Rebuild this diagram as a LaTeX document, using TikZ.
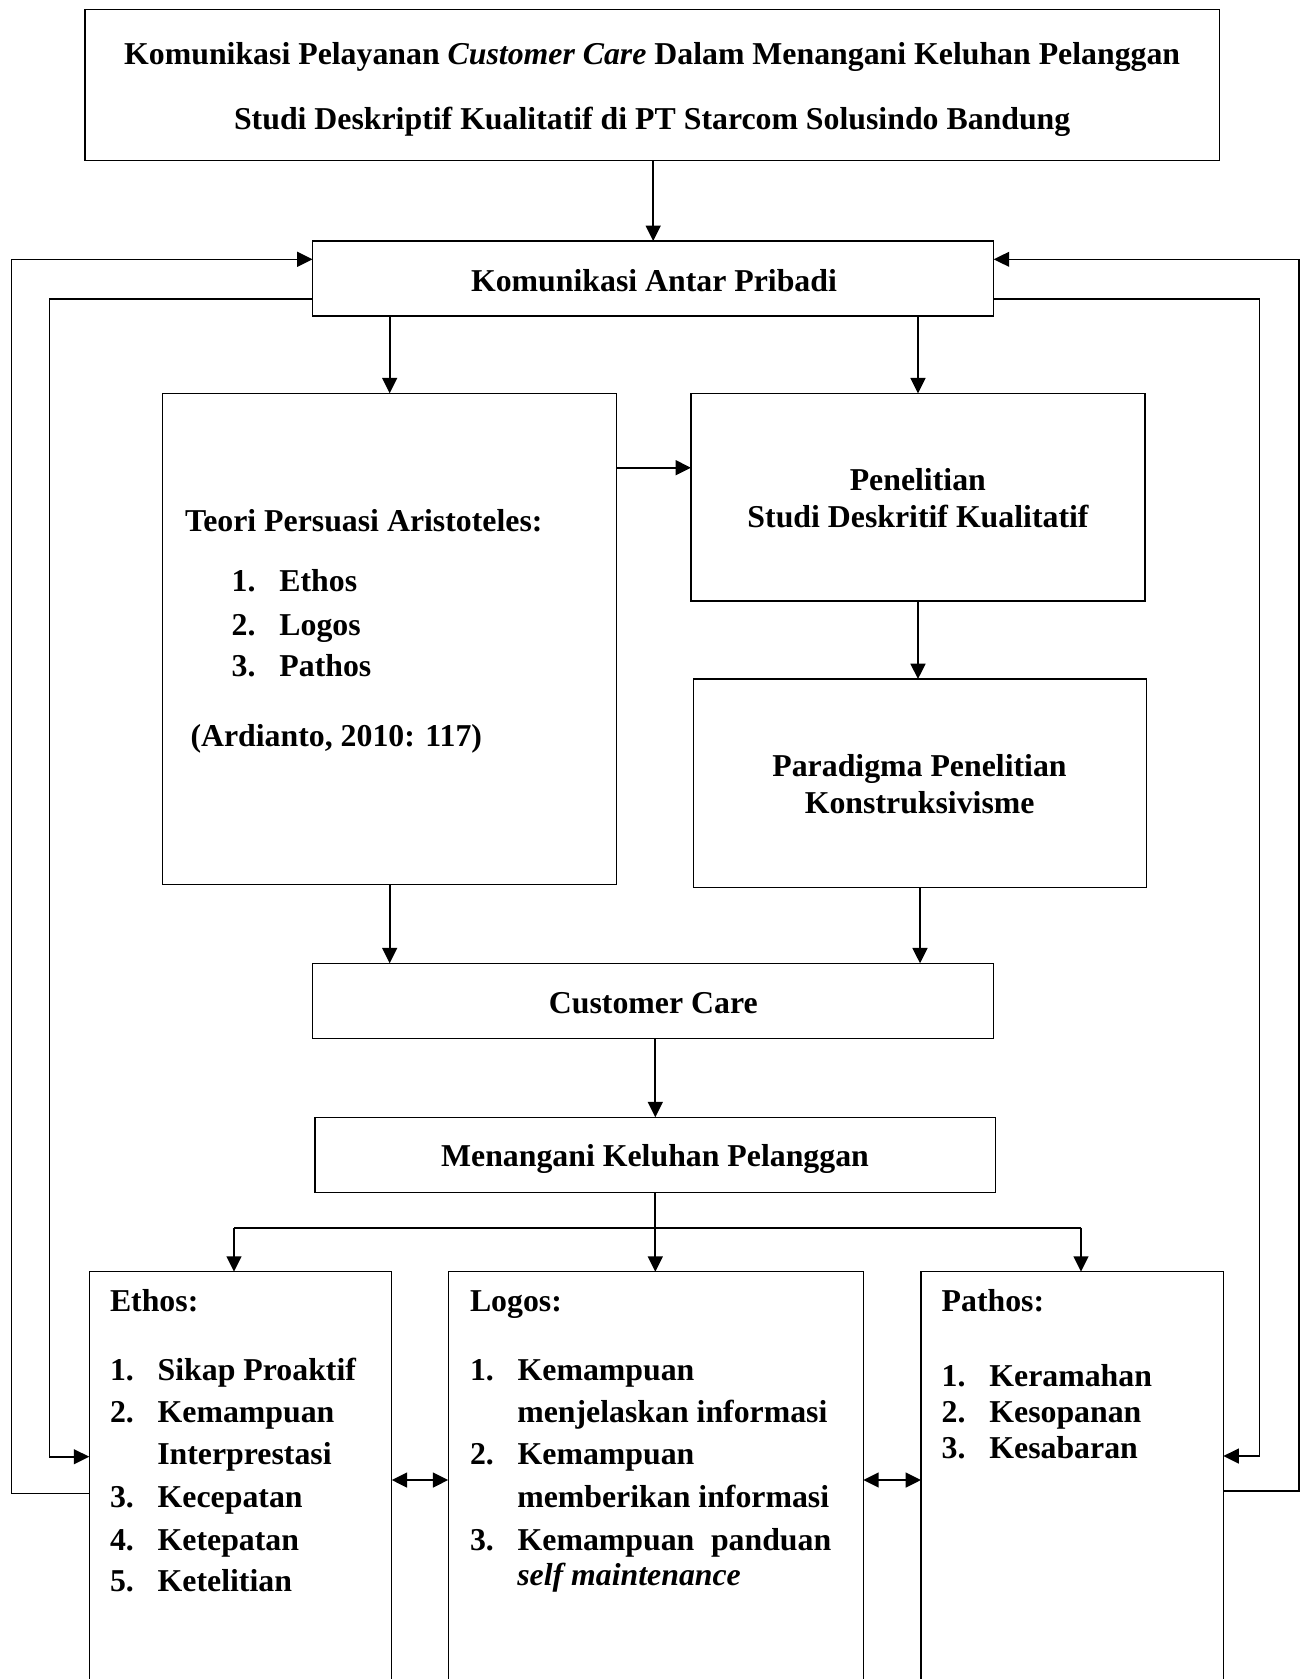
\documentclass[tikz,border=0pt]{standalone}
\usepackage{fontspec}
\setmainfont{Liberation Serif}
\usetikzlibrary{arrows.meta}

\newcommand{\nomor}[1]{\makebox[18pt][l]{#1}}

\begin{document}
\begin{tikzpicture}[x=0.013263cm, y=-0.013263cm, >={Triangle[length=5.8pt, width=5.6pt]},
	every node/.style={font=\fontsize{12}{14}\selectfont\bfseries, inner sep=0pt, outer sep=0pt},
	kotak/.style={draw, line width=0.5pt, rectangle},
	ukuran/.style 2 args={minimum width=#1*0.37736pt, minimum height=#2*0.37736pt},
	panah/.style={->, line width=0.75pt},
	garis/.style={line width=0.6pt},
	teks/.style={anchor=base west},
	tengah/.style={anchor=base}]
	\useasboundingbox (0,0) rectangle (1306,1679);
	\clip (0,0) rectangle (1306,1679);
	
	% ==================== judul ====================
	\node[kotak, ukuran={1134.3}{151.4}] (judul) at (652.2,85) {};
	\node[tengah] (judul1) at (652.2,64) {Komunikasi Pelayanan \textit{Customer Care} Dalam Menangani Keluhan Pelanggan};
	\node[tengah] (judul2) at (652.2,129.3) {Studi Deskriptif Kualitatif di PT Starcom Solusindo Bandung};
	
	% ==================== kotak tengah ====================
	\node[kotak, ukuran={681}{75}] (kap) at (653.2,278.5) {};
	\node[tengah] (kapteks) at (654,291) {Komunikasi Antar Pribadi};
	
	\node[kotak, ukuran={454}{491}] (teori) at (389.7,638.8) {};
	\node[teks] (teori0) at (185,531) {Teori Persuasi Aristoteles:};
	\node[teks] (teori1) at (231.7,591.7) {\nomor{1.}Ethos};
	\node[teks] (teori2) at (231.7,635) {\nomor{2.}Logos};
	\node[teks] (teori3) at (231.7,676.7) {\nomor{3.}Pathos};
	\node[teks] (sumber) at (190.5,746.5) {(Ardianto, 2010: 117)};
	
	\node[kotak, ukuran={454}{207.7}] (penelitian) at (918,497.2) {};
	\node[tengah] (penelitian1) at (917.8,490) {Penelitian};
	\node[tengah] (penelitian2) at (918,527.7) {Studi Deskritif Kualitatif};
	
	\node[kotak, ukuran={453.4}{208.3}] (paradigma) at (920,783.2) {};
	\node[tengah] (paradigma1) at (919.5,776) {Paradigma Penelitian};
	\node[tengah] (paradigma2) at (919.7,813.3) {Konstruksivisme};
	
	\node[kotak, ukuran={680.7}{75}] (cc) at (653,1000.8) {};
	\node[tengah] (ccteks) at (653.3,1013.3) {Customer Care};
	
	\node[kotak, ukuran={680.6}{75}] (mkp) at (655.3,1154.8) {};
	\node[tengah] (mkpteks) at (655,1166.7) {Menangani Keluhan Pelanggan};
	
	% ==================== kotak bawah ====================
	\node[kotak, ukuran={302.4}{438.3}] (ethos) at (240.5,1490.9) {};
	\node[teks] (ethos0) at (110,1311.7) {Ethos:};
	\node[teks] (ethos1) at (110,1380.7) {\nomor{1.}Sikap Proaktif};
	\node[teks] (ethos2) at (110,1422.7) {\nomor{2.}Kemampuan};
	\node[teks] (ethos2b) at (157.3,1464) {Interprestasi};
	\node[teks] (ethos3) at (110,1507.3) {\nomor{3.}Kecepatan};
	\node[teks] (ethos4) at (110,1550.7) {\nomor{4.}Ketepatan};
	\node[teks] (ethos5) at (110,1591.7) {\nomor{5.}Ketelitian};
	
	\node[kotak, ukuran={415}{438.3}] (logos) at (655.8,1490.9) {};
	\node[teks] (logos0) at (470,1311.7) {Logos:};
	\node[teks] (logos1) at (470,1380) {\nomor{1.}Kemampuan};
	\node[teks] (logos1b) at (517.3,1422.7) {menjelaskan informasi};
	\node[teks] (logos2) at (470,1464) {\nomor{2.}Kemampuan};
	\node[teks] (logos2b) at (517.3,1507.3) {memberikan informasi};
	\node[teks] (logos3) at (470,1550) {\nomor{3.}\makebox[118.3pt][s]{Kemampuan panduan}};
	\node[teks] (logos3b) at (517.3,1585) {\textit{self maintenance}};
	
	\node[kotak, ukuran={302.3}{438.3}] (pathos) at (1072.2,1490.9) {};
	\node[teks] (pathos0) at (941.7,1311.7) {Pathos:};
	\node[teks] (pathos1) at (941.7,1386) {\nomor{1.}Keramahan};
	\node[teks] (pathos2) at (941.7,1422.3) {\nomor{2.}Kesopanan};
	\node[teks] (pathos3) at (941.7,1458.3) {\nomor{3.}Kesabaran};
	
	% ==================== panah ====================
	\coordinate (tp) at (0,467.7);
	\draw[panah] (judul.south -| kap) -- (kap.north);
	\draw[panah] (kap.south -| teori) -- (teori.north);
	\draw[panah] (kap.south -| penelitian) -- (penelitian.north);
	\draw[panah] (teori.east |- tp) -- (penelitian.west |- tp);
	\draw[panah] (penelitian.south) -- (penelitian.south |- paradigma.north);
	\draw[panah] (teori.south) -- (teori.south |- cc.north);
	\draw[panah] (paradigma.south) -- (paradigma.south |- cc.north);
	\draw[panah] (cc.south -| mkp) -- (mkp.north);
	
	% cabang ke tiga kotak
	\coordinate (cabKiri) at (234,1227.7);
	\coordinate (cabKanan) at (1081,1227.7);
	\draw[garis] (cabKiri) -- (cabKanan);
	\draw[panah] (mkp.south) -- (mkp.south |- logos.north);
	\draw[panah] (cabKiri) -- (cabKiri |- ethos.north);
	\draw[panah] (cabKanan) -- (cabKanan |- pathos.north);
	
	% panah dua arah
	\coordinate (dua) at (0,1480);
	\draw[<->, line width=0.75pt] (ethos.east |- dua) -- (logos.west |- dua);
	\draw[<->, line width=0.75pt] (logos.east |- dua) -- (pathos.west |- dua);
	
	% ==================== umpan balik kiri dan kanan ====================
	\coordinate (LoA) at (11.7,1493.3);
	\coordinate (LoB) at (11.7,259.3);
	\coordinate (LiA) at (49.3,299);
	\coordinate (LiB) at (49.3,1456.7);
	\coordinate (RoA) at (1299,1490.7);
	\coordinate (RoB) at (1299,259.3);
	\coordinate (RiA) at (1259.3,299);
	\coordinate (RiB) at (1259.3,1456);
	\draw[garis, ->] (ethos.west |- LoA) -- (LoA) -- (LoB) -- (kap.west |- LoB);
	\draw[garis, ->] (kap.west |- LiA) -- (LiA) -- (LiB) -- (ethos.west |- LiB);
	\draw[garis, ->] (pathos.east |- RoA) -- (RoA) -- (RoB) -- (kap.east |- RoB);
	\draw[garis, ->] (kap.east |- RiA) -- (RiA) -- (RiB) -- (pathos.east |- RiB);
\end{tikzpicture}
\end{document}
